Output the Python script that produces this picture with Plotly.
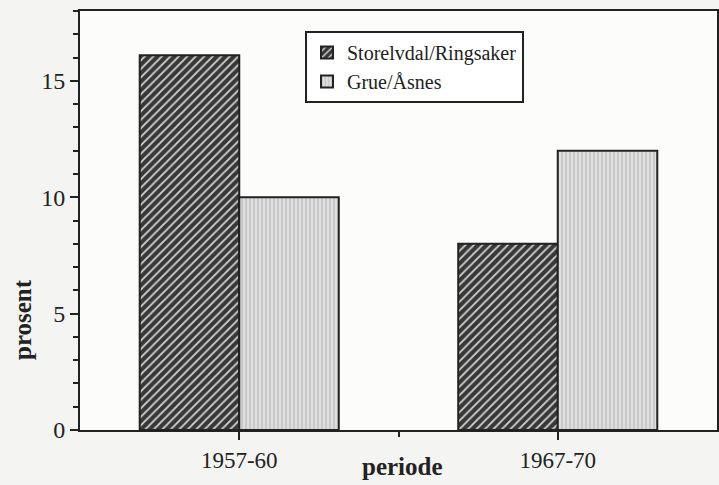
import plotly.graph_objects as go

categories = ["1957-60", "1967-70"]
storelvdal = [16.1, 8.0]
grue = [10.0, 12.0]
series_names = ["Storelvdal/Ringsaker", "Grue/Åsnes"]
y_ticks = [0, 5, 10, 15]

FONT = "Liberation Serif, Times New Roman, serif"
INK = "#222222"

x_pos = list(range(len(categories)))

fig = go.Figure()
fig.add_trace(go.Bar(
    x=x_pos, y=storelvdal, name=series_names[0],
    marker=dict(
        color="#3a3a3a",
        line=dict(color=INK, width=2),
        pattern=dict(shape="/", bgcolor="#383838", fgcolor="#d4d4d4",
                     size=6, solidity=0.3, fillmode="replace"),
    ),
))
fig.add_trace(go.Bar(
    x=x_pos, y=grue, name=series_names[1],
    marker=dict(
        color="#dadada",
        line=dict(color=INK, width=2),
        pattern=dict(shape="|", bgcolor="#dedede", fgcolor="#a8a8a8",
                     size=4, solidity=0.2, fillmode="replace"),
    ),
))

fig.update_layout(
    width=719, height=485,
    margin=dict(l=80, r=2, t=11, b=55, autoexpand=False),
    paper_bgcolor="#f4f4f2",
    plot_bgcolor="#fcfcfb",
    barmode="group",
    bargap=0.375,
    bargroupgap=0,
    font=dict(family=FONT, color=INK, size=22),
    showlegend=True,
    legend=dict(
        x=(305 - 80) / 637, y=(430 - 31) / 419,
        xanchor="left", yanchor="top",
        bgcolor="#ffffff", bordercolor=INK, borderwidth=2,
        font=dict(family=FONT, size=20, color=INK),
        tracegroupgap=0,
    ),
    xaxis=dict(
        range=[-0.5, 1.5],
        tickmode="array", tickvals=x_pos, ticktext=categories,
        ticks="outside", ticklen=8, tickwidth=2, tickcolor=INK,
        minor=dict(tickmode="array", tickvals=[0.5], ticks="outside",
                   ticklen=5, tickwidth=2, tickcolor=INK),
        showline=True, linewidth=2, linecolor=INK, mirror=True,
        showgrid=False, zeroline=False, automargin=False,
        tickfont=dict(family=FONT, size=23, color=INK),
    ),
    yaxis=dict(
        range=[0, 18],
        tickmode="array", tickvals=y_ticks,
        ticks="outside", ticklen=8, tickwidth=2, tickcolor=INK,
        minor=dict(dtick=1, ticks="outside", ticklen=5, tickwidth=2,
                   tickcolor=INK, showgrid=False),
        showline=True, linewidth=2, linecolor=INK, mirror=True,
        showgrid=False, zeroline=False, automargin=False,
        tickfont=dict(family=FONT, size=24, color=INK),
    ),
    annotations=[
        dict(text="<b>prosent</b>", xref="paper", yref="paper",
             x=(22 - 80) / 637, y=(430 - 320) / 419, textangle=-90,
             showarrow=False, xanchor="center", yanchor="middle",
             font=dict(family=FONT, size=25, color=INK)),
        dict(text="<b>periode</b>", xref="paper", yref="paper",
             x=(402 - 80) / 637, y=(430 - 466) / 419,
             showarrow=False, xanchor="center", yanchor="middle",
             font=dict(family=FONT, size=25, color=INK)),
    ],
)

fig.write_html(
    "out.html",
    config={"displayModeBar": False},
    post_script="document.body.style.margin='0';document.body.style.overflow='hidden';",
)
